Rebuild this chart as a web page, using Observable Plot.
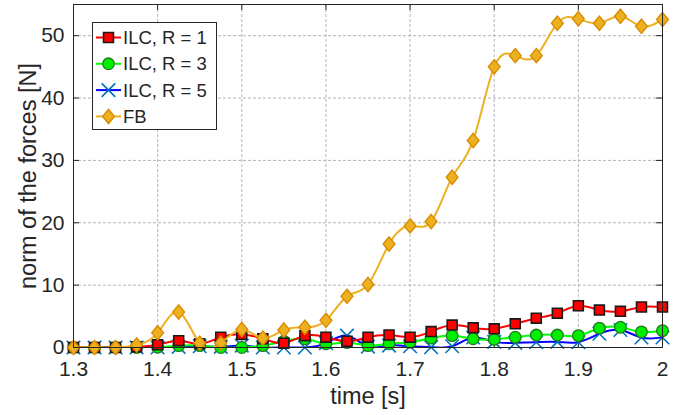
<!DOCTYPE html>
<html>
<head>
<meta charset="utf-8">
<script src="https://cdn.jsdelivr.net/npm/d3@7"></script>
<script src="https://cdn.jsdelivr.net/npm/@observablehq/plot@0.6"></script>
<style>
  html, body { margin: 0; padding: 0; background: white; }
  #chart { width: 686px; height: 415px; }
</style>
</head>
<body>
<div id="chart"></div>
<script>
// ---- data ----
const times = [1.3,1.325,1.35,1.375,1.4,1.425,1.45,1.475,1.5,1.525,1.55,1.575,1.6,1.625,1.65,1.675,1.7,1.725,1.75,1.775,1.8,1.825,1.85,1.875,1.9,1.925,1.95,1.975,2.0];
const ilcR1 = [0,0,0,0.1,0.45,1.1,0.6,1.65,2.1,1.4,0.7,1.9,1.65,1.0,1.65,2.0,1.65,2.55,3.6,3.15,3.0,3.8,4.7,5.5,6.7,6.0,5.8,6.5,6.5];
const ilcR3 = [0,0,0,0,0.05,0.3,0.3,0,0,0.3,1.0,1.4,0.6,0.8,0.3,0.6,0.85,1.5,1.9,1.4,1.3,1.65,2.0,2.0,1.9,3.1,3.25,2.5,2.7];
const ilcR5 = [0,0,0,0,0,0.1,0.2,0.1,0.3,0,0,0,0.7,1.9,0.15,0.3,0.2,0.05,0.2,1.6,0.9,0.75,0.85,0.9,0.85,2.2,2.8,1.6,1.6];
const fb    = [0,0,0,0.4,2.35,5.7,0.7,0.7,2.9,1.5,2.8,3.25,4.35,8.2,10.1,16.6,19.5,20.2,27.3,33.2,45.0,46.8,46.8,52.0,52.7,52.0,53.1,51.5,52.6];

const seriesNames = ["ILC, R = 1", "ILC, R = 3", "ILC, R = 5", "FB"];
const xTicks = [1.3,1.4,1.5,1.6,1.7,1.8,1.9,2.0];
const xTickLabels = ["1.3","1.4","1.5","1.6","1.7","1.8","1.9","2"];
const yTicks = [0,10,20,30,40,50];
const yTickLabels = ["0","10","20","30","40","50"];
const xLabel = "time [s]";
const yLabel = "norm of the forces [N]";

// ---- styles ----
const W = 686, H = 415;
const mL = 73, mR = 24, mT = 4, mB = 68;
const innerW = W - mL - mR, innerH = H - mT - mB;
const axisColor = "#262626";
const font = "'Liberation Sans', Arial, Helvetica, sans-serif";
const tickFont = 21, labelFont = 23.5, legendFont = 18.5;

const diamond = {
  draw(ctx, size) {
    const r = Math.sqrt(size / Math.PI);
    const h = r * 1.15, w = r * 0.95;
    ctx.moveTo(0, -h); ctx.lineTo(w, 0); ctx.lineTo(0, h); ctx.lineTo(-w, 0); ctx.closePath();
  }
};

const styles = [
  {line: "#ff0000", symbol: "square", fill: "#ff0000", stroke: "#1a1a1a", r: 5.6, sw: 1.6},
  {line: "#00ff00", symbol: "circle", fill: "#00ee00", stroke: "#1f7a1f", r: 5.8, sw: 1.3},
  {line: "#0000ff", symbol: "times", fill: "none", stroke: "#0072bd", r: 6.2, sw: 1.6},
  {line: "#edb120", symbol: diamond, fill: "#edb120", stroke: "#d98a00", r: 6.2, sw: 1.4}
];

const values = [ilcR1, ilcR3, ilcR5, fb];
const tables = values.map((vals, k) => times.map((t, i) => ({t, v: vals[i], s: seriesNames[k]})));

// draw order: R=5, R=3, R=1, FB
const order = [2, 1, 0, 3];
const seriesMarks = [];
for (const k of order) {
  const st = styles[k];
  seriesMarks.push(Plot.line(tables[k], {x: "t", y: "v", stroke: st.line, strokeWidth: 2, curve: "natural", clip: true}));
  seriesMarks.push(Plot.dot(tables[k], {x: "t", y: "v", symbol: st.symbol, r: st.r,
    fill: st.fill, stroke: st.stroke, strokeWidth: st.sw}));
}

const plot = Plot.plot({
  width: W, height: H,
  marginLeft: mL, marginRight: mR, marginTop: mT, marginBottom: mB,
  style: {fontFamily: font, fontSize: tickFont + "px", background: "white", color: axisColor},
  x: {domain: [1.3, 2.0]},
  y: {domain: [0, 55]},
  marks: [
    Plot.gridX(xTicks, {stroke: "#b5b5b5", strokeOpacity: 1, strokeDasharray: "3,2", strokeWidth: 1}),
    Plot.gridY(yTicks, {stroke: "#b5b5b5", strokeOpacity: 1, strokeDasharray: "3,2", strokeWidth: 1}),
    Plot.axisX(xTicks, {tickSize: 0, tickPadding: 14, tickFormat: (d) => xTickLabels[xTicks.indexOf(d)], label: null, fontSize: tickFont, fill: axisColor}),
    Plot.axisY(yTicks, {tickSize: 0, tickPadding: 9, tickFormat: (d) => yTickLabels[yTicks.indexOf(d)], label: null, fontSize: tickFont, fill: axisColor}),
    // inward ticks on all four sides
    Plot.tickX(xTicks, {x: d => d, insetTop: innerH - 6, stroke: axisColor}),
    Plot.tickX(xTicks, {x: d => d, insetBottom: innerH - 6, stroke: axisColor}),
    Plot.tickY(yTicks, {y: d => d, insetRight: innerW - 6, stroke: axisColor}),
    Plot.tickY(yTicks, {y: d => d, insetLeft: innerW - 6, stroke: axisColor}),
    ...seriesMarks,
    Plot.frame({stroke: axisColor, strokeWidth: 1}),
    Plot.text([xLabel], {frameAnchor: "bottom", text: d => d, dy: 56, fontSize: labelFont, fill: axisColor, textAnchor: "middle"}),
    Plot.text([yLabel], {frameAnchor: "left", text: d => d, rotate: -90, dx: -45, fontSize: labelFont, fill: axisColor, textAnchor: "middle"})
  ]
});

document.getElementById("chart").appendChild(plot);

// ---- legend (inside axes, upper-left) ----
const svg = d3.select(plot);
const lg = svg.append("g").attr("font-family", font).attr("font-size", legendFont).attr("text-anchor", "start");
lg.append("rect").attr("x", 92.5).attr("y", 22.5).attr("width", 124).attr("height", 107)
  .attr("fill", "white").attr("stroke", axisColor).attr("stroke-width", 1);
const rowY0 = 37.5, rowStep = 26.3;
seriesNames.forEach((name, k) => {
  const st = styles[k];
  const y = rowY0 + k * rowStep;
  lg.append("line").attr("x1", 96).attr("x2", 121).attr("y1", y).attr("y2", y)
    .attr("stroke", st.line).attr("stroke-width", 2);
  const sym = st.symbol === "square" ? d3.symbolSquare : st.symbol === "circle" ? d3.symbolCircle : st.symbol === "times" ? d3.symbolTimes : st.symbol;
  lg.append("path").attr("d", d3.symbol(sym, st.r * st.r * Math.PI)())
    .attr("transform", `translate(108.5,${y})`)
    .attr("fill", st.fill).attr("stroke", st.stroke).attr("stroke-width", st.sw);
  lg.append("text").attr("x", 123).attr("y", y).attr("dy", "0.35em").attr("fill", axisColor)
    .attr("text-anchor", "start").text(name);
});
</script>
</body>
</html>
